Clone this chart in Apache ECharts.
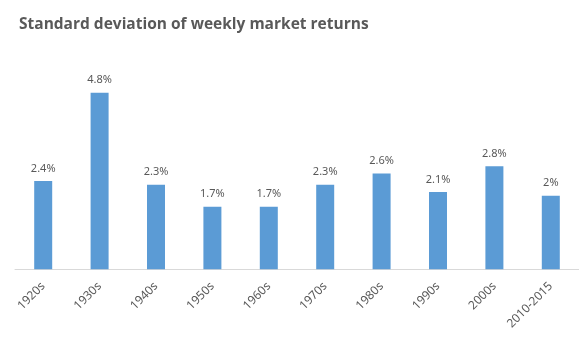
<!DOCTYPE html>
<html>
<head>
<meta charset="utf-8">
<script src="https://cdn.jsdelivr.net/npm/echarts@6/dist/echarts.min.js"></script>
<style>
  html, body { margin: 0; padding: 0; background: #fff; }
  #chart { width: 579px; height: 346px; }
</style>
</head>
<body>
<div id="chart"></div>
<script>
// Decades shown along the category axis
const decades = ['1920s', '1930s', '1940s', '1950s', '1960s', '1970s', '1980s', '1990s', '2000s', '2010-2015'];
// Standard deviation of weekly returns, in percent
const stdDev = [2.4, 4.8, 2.3, 1.7, 1.7, 2.3, 2.6, 2.1, 2.8, 2.0];

const chart = echarts.init(document.getElementById('chart'), null, { renderer: 'canvas' });

chart.setOption({
  animation: false,
  backgroundColor: '#ffffff',
  title: {
    text: 'Standard deviation of weekly market returns',
    left: 14,
    top: 12,
    textStyle: {
      fontFamily: 'Open Sans',
      fontWeight: 'bold',
      fontSize: 15.5,
      color: '#595959'
    }
  },
  grid: {
    left: 15,
    right: -6,
    top: 48.5,
    bottom: 76.7,
    containLabel: false
  },
  xAxis: {
    type: 'category',
    data: decades,
    axisLine: { lineStyle: { color: '#d9d9d9', width: 1 } },
    axisTick: { show: false },
    axisLabel: {
      rotate: 45,
      interval: 0,
      margin: 15,
      color: '#595959',
      fontFamily: 'Noto Sans',
      fontSize: 12
    }
  },
  yAxis: {
    type: 'value',
    min: 0,
    max: 6,
    show: false,
    splitLine: { show: false }
  },
  series: [{
    type: 'bar',
    data: stdDev,
    barWidth: 18,
    itemStyle: { color: '#5b9bd5' },
    label: {
      show: true,
      position: 'top',
      distance: 7,
      formatter: p => p.value + '%',
      color: '#595959',
      fontFamily: 'Noto Sans',
      fontSize: 11
    }
  }]
});
</script>
</body>
</html>
